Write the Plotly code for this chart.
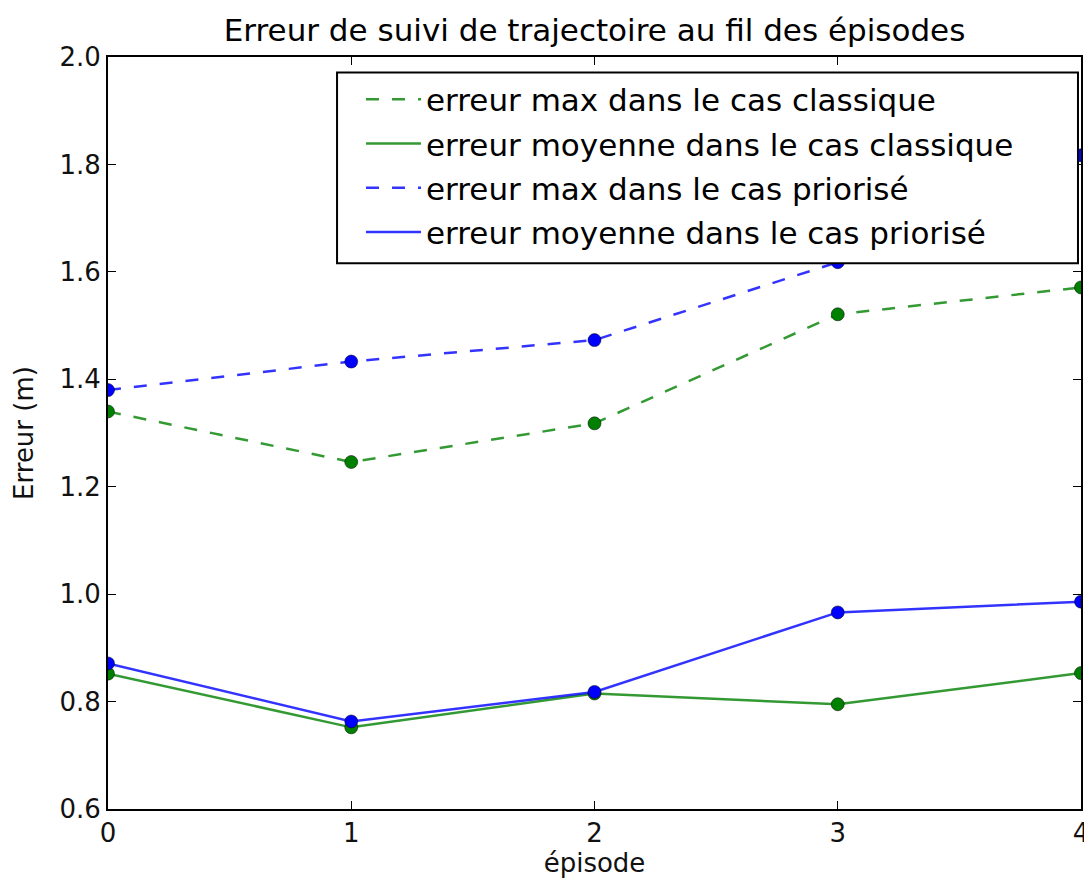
import plotly.graph_objects as go

episodes = [0, 1, 2, 3, 4]
max_classique = [1.340, 1.246, 1.318, 1.521, 1.571]
moy_classique = [0.852, 0.752, 0.815, 0.795, 0.853]
max_priorise = [1.380, 1.433, 1.473, 1.618, 1.817]
moy_priorise = [0.871, 0.763, 0.818, 0.966, 0.986]

names = ["erreur max dans le cas classique",
         "erreur moyenne dans le cas classique",
         "erreur max dans le cas priorisé",
         "erreur moyenne dans le cas priorisé"]

GREEN = "#008000"
BLUE = "#0000ff"
FONT = "DejaVu Sans"

fig = go.Figure()
series = [
    (max_classique, GREEN, "dash", names[0], "rgba(0,128,0,0.8)"),
    (moy_classique, GREEN, "solid", names[1], "rgba(0,128,0,0.8)"),
    (max_priorise, BLUE, "dash", names[2], "rgba(0,0,255,0.8)"),
    (moy_priorise, BLUE, "solid", names[3], "rgba(0,0,255,0.8)"),
]
for i, (vals, col, dash, name, lcol) in enumerate(series):
    fig.add_trace(go.Scatter(
        x=episodes, y=vals, mode="lines", name=name, legendgroup=f"g{i}",
        line=dict(color=lcol, width=2.5, dash="13px,13px" if dash == "dash" else "solid"),
    ))
for vals, col, dash, name, lcol in series:
    fig.add_trace(go.Scatter(
        x=episodes, y=vals, mode="markers", showlegend=False,
        marker=dict(color=col, size=13, line=dict(color="#000000", width=0.5)),
    ))

W, H = 1084, 874
L, T = 100, 48.5
PW, PH = 973, 752.5

# legend frame (drawn as a shape so it can be sized like the reference)
fig.add_shape(type="rect", xref="paper", yref="paper",
              x0=0.2354, x1=0.9969, y0=0.7256, y1=0.9794,
              fillcolor="white", line=dict(color="#000000", width=2), layer="above")

fig.update_layout(
    width=W, height=H,
    margin=dict(l=L, r=W - L - PW, t=T, b=H - T - PH, autoexpand=False),
    paper_bgcolor="white", plot_bgcolor="white",
    font=dict(family=FONT, size=26, color="#000000"),
    title=dict(text="Erreur de suivi de trajectoire au fil des épisodes",
               x=0.5, xanchor="center", xref="paper",
               y=1 - 22 / H, yanchor="middle",
               font=dict(size=31, family=FONT, color="#000000")),
    legend=dict(x=0.26, y=0.9794, xanchor="left", yanchor="top",
                bgcolor="rgba(0,0,0,0)", borderwidth=0,
                font=dict(size=31, family=FONT, color="#000000"),
                itemwidth=55, tracegroupgap=1),
    showlegend=True,
)
fig.update_xaxes(
    range=[0, 4], tickvals=episodes, ticktext=[str(e) for e in episodes],
    showgrid=False, zeroline=False, showline=True, linecolor="#000000", linewidth=2,
    mirror="ticks", ticks="inside", ticklen=8, tickcolor="#000000", tickwidth=1,
    tickfont=dict(size=26, family=FONT, color="#111111"), automargin=False,
    title=dict(text="épisode", font=dict(size=26, family=FONT, color="#111111"), standoff=4),
)
fig.update_yaxes(
    range=[0.6, 2.0], tickvals=[0.6, 0.8, 1.0, 1.2, 1.4, 1.6, 1.8, 2.0],
    ticktext=["0.6", "0.8", "1.0", "1.2", "1.4", "1.6", "1.8", "2.0"],
    showgrid=False, zeroline=False, showline=True, linecolor="#000000", linewidth=2,
    mirror="ticks", ticks="inside", ticklen=8, tickcolor="#000000", tickwidth=1,
    tickfont=dict(size=26, family=FONT, color="#111111"), automargin=False,
    title=dict(text="Erreur (m)", font=dict(size=26, family=FONT, color="#111111"), standoff=18),
)

fig.write_html("out.html")
